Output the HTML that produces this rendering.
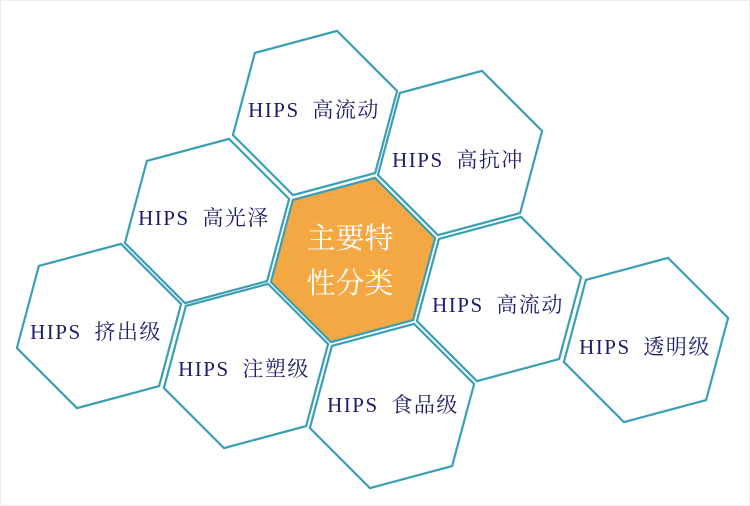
<!DOCTYPE html>
<html><head><meta charset="utf-8"><style>
html,body{margin:0;padding:0;background:#fff;}
svg{display:block;}
text{font-family:"Liberation Serif","Noto Serif CJK SC","Noto Sans CJK SC",serif;}
</style></head><body>
<svg width="750" height="506" viewBox="0 0 750 506" xmlns="http://www.w3.org/2000/svg">
<rect x="0.5" y="0.5" width="749" height="505" fill="#fff" stroke="#eeeeee"/>
<defs>
<polygon id="h" points="82.1,-22 60.1,60.1 -22,82.1 -82.1,22 -60.1,-60.1 22,-82.1"/>
</defs>
<g fill="#fff" stroke="#3a9fb4" stroke-width="2.2">
<use href="#h" transform="translate(315,113)"/>
<use href="#h" transform="translate(460,153)"/>
<use href="#h" transform="translate(207,221)"/>
<use href="#h" transform="translate(499,299)"/>
<use href="#h" transform="translate(646,340)"/>
<use href="#h" transform="translate(99,326)"/>
<use href="#h" transform="translate(246,366)"/>
<use href="#h" transform="translate(392,406)"/>
<use href="#h" transform="translate(353,260)" fill="#f4a843"/>
</g>
<g fill="#1c1c6b" font-size="21" text-anchor="middle" letter-spacing="1.5" word-spacing="6">
<text x="314" y="117">HIPS 高流动</text>
<text x="458" y="167">HIPS 高抗冲</text>
<text x="204" y="225">HIPS 高光泽</text>
<text x="498" y="312">HIPS 高流动</text>
<text x="645" y="354">HIPS 透明级</text>
<text x="96" y="339">HIPS 挤出级</text>
<text x="244" y="376">HIPS 注塑级</text>
<text x="393" y="412">HIPS 食品级</text>
</g>
<g fill="#fff" font-size="29" text-anchor="middle">
<text x="350" y="248">主要特</text>
<text x="350" y="293">性分类</text>
</g>
</svg>
</body></html>
